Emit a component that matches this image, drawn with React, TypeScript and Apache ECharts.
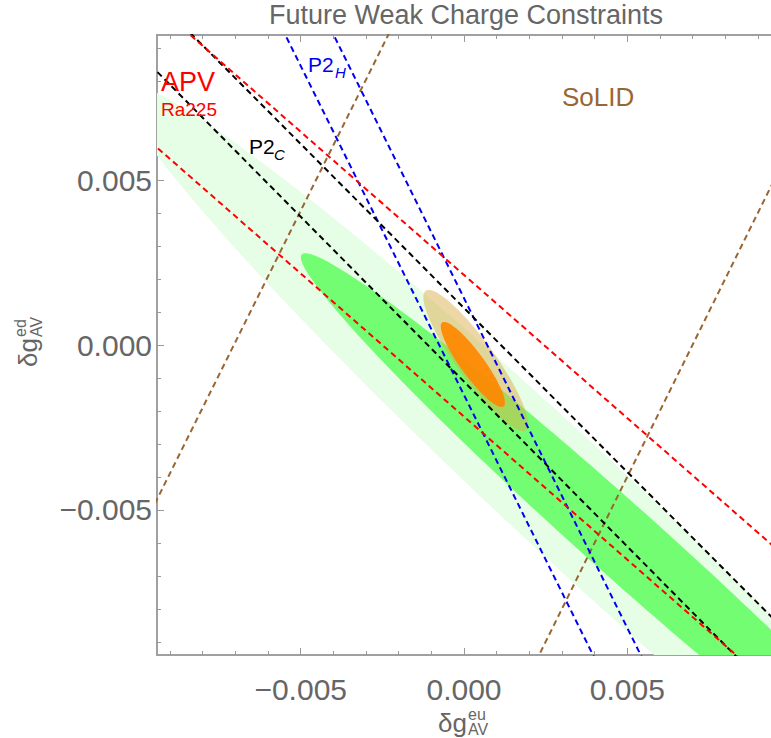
import React, { useEffect, useRef } from "react";
import * as echarts from "echarts";

// axis ranges
const xRange = [-0.0094, 0.0094];
const yRange = [-0.0094, 0.0094];
// tick values
const majorTicks = [-0.005, 0, 0.005];
const minorTicks = [
  -0.009, -0.008, -0.007, -0.006, -0.005, -0.004, -0.003, -0.002, -0.001, 0,
  0.001, 0.002, 0.003, 0.004, 0.005, 0.006, 0.007, 0.008, 0.009,
];

// ellipses: [centerX, centerY, semiMajor, semiMinor, angleDeg]
const ellipseLightGreen = [0.00312, -0.00462, 0.01848, 0.00176, -42.6];
const ellipseGreen = [0.00479, -0.00589, 0.01303, 0.00109, -41.5];
const ellipseTan = [0.00036, -0.00047, 0.00261, 0.00058, -54];
const ellipseOrange = [0.00027, -0.00059, 0.00158, 0.00036, -53.6];

// constraint bands (line endpoints in data units)
const apvUpper = [[-0.0086, 0.00959], [0.0096, -0.00621]];
const apvLower = [[-0.0096, 0.00616], [0.00856, -0.0096]];
const p2cUpper = [[-0.0086, 0.00968], [0.0096, -0.00843]];
const p2cLower = [[-0.0096, 0.00849], [0.0085, -0.00961]];
const p2hLeft = [[-0.00557, 0.0096], [0.00405, -0.0096]];
const p2hRight = [[-0.00409, 0.0096], [0.00551, -0.0096]];
const solidLeft = [[-0.0096, -0.00508], [-0.00222, 0.0096]];
const solidRight = [[0.0022, -0.0096], [0.0096, 0.00521]];

const FONT = "'Liberation Sans', Arial, sans-serif";
const GRAY = "#666666";
const FRAME = "#9a9a9a";
const BROWN = "#996633";

function fmt(v: number) {
  if (Math.abs(v) < 1e-12) return "0.000";
  return (v < 0 ? "\u2212" : "") + Math.abs(v).toFixed(3);
}

function ellipseRenderer(fill: string) {
  return (params: any, api: any) => {
    const cx = api.value(0);
    const cy = api.value(1);
    const a = api.value(2);
    const b = api.value(3);
    const ang = (api.value(4) * Math.PI) / 180;
    const pts: number[][] = [];
    const N = 240;
    for (let i = 0; i < N; i++) {
      const t = (2 * Math.PI * i) / N;
      const dx = a * Math.cos(t);
      const dy = b * Math.sin(t);
      const x = cx + dx * Math.cos(ang) - dy * Math.sin(ang);
      const y = cy + dx * Math.sin(ang) + dy * Math.cos(ang);
      pts.push(api.coord([x, y]));
    }
    return { type: "polygon", shape: { points: pts }, style: { fill } };
  };
}

function lineSeries(data: number[][], color: string) {
  return {
    type: "line",
    data,
    symbol: "none",
    showSymbol: false,
    silent: true,
    clip: true,
    z: 5,
    lineStyle: { color, width: 2, type: [6, 4] },
  };
}

function ellipseSeries(data: number[], fill: string, z: number) {
  return {
    type: "custom",
    renderItem: ellipseRenderer(fill),
    data: [data],
    clip: true,
    silent: true,
    z,
  };
}

function txt(text: string, x: number, y: number, size: number, color: string, align = "left", italic = false) {
  return {
    type: "text",
    x,
    y,
    z: 10,
    style: {
      text,
      fill: color,
      fontSize: size,
      fontFamily: FONT,
      fontStyle: italic ? "italic" : "normal",
      align,
      textAlign: align,
      verticalAlign: "middle",
      textVerticalAlign: "middle",
    },
  };
}

export default function App() {
  const ref = useRef<HTMLDivElement>(null);
  useEffect(() => {
    if (!ref.current) return;
    const chart = echarts.init(ref.current, undefined, { renderer: "svg" });
    const baseAxis = {
      type: "value",
      splitLine: { show: false },
      axisLine: { show: true, onZero: false, lineStyle: { color: FRAME, width: 1.5 } },
    };
    const majorTick = { show: true, inside: true, length: 7, customValues: majorTicks, lineStyle: { color: FRAME, width: 1 } };
    const minorTickCfg = { show: true, inside: true, length: 4, customValues: minorTicks, lineStyle: { color: FRAME, width: 1 } };
    const noLabel = { show: false };
    const xBase = { ...baseAxis, min: xRange[0], max: xRange[1] };
    const yBase = { ...baseAxis, min: yRange[0], max: yRange[1] };
    const option: any = {
      animation: false,
      backgroundColor: "#ffffff",
      grid: { left: 157, top: 35, width: 620, height: 620, containLabel: false },
      xAxis: [
        {
          ...xBase,
          position: "bottom",
          axisTick: majorTick,
          axisLabel: { show: true, customValues: majorTicks, formatter: fmt, fontSize: 30, color: GRAY, fontFamily: FONT, margin: 19 },
        },
        { ...xBase, position: "bottom", axisTick: minorTickCfg, axisLabel: noLabel },
        { ...xBase, position: "top", axisTick: majorTick, axisLabel: noLabel },
        { ...xBase, position: "top", axisTick: minorTickCfg, axisLabel: noLabel },
      ],
      yAxis: [
        {
          ...yBase,
          position: "left",
          axisTick: majorTick,
          axisLabel: { show: true, customValues: majorTicks, formatter: fmt, fontSize: 30, color: GRAY, fontFamily: FONT, margin: 5 },
        },
        { ...yBase, position: "left", axisTick: minorTickCfg, axisLabel: noLabel },
      ],
      series: [
        ellipseSeries(ellipseLightGreen, "#e6fde6", 1),
        ellipseSeries(ellipseGreen, "#73fd73", 2),
        ellipseSeries(ellipseTan, "rgba(220,172,70,0.48)", 3),
        ellipseSeries(ellipseOrange, "rgba(255,136,0,0.92)", 4),
        lineSeries(solidLeft, BROWN),
        lineSeries(solidRight, BROWN),
        lineSeries(p2hLeft, "#0000f0"),
        lineSeries(p2hRight, "#0000f0"),
        lineSeries(p2cUpper, "#000000"),
        lineSeries(p2cLower, "#000000"),
        lineSeries(apvUpper, "#ff0000"),
        lineSeries(apvLower, "#ff0000"),
      ],
      graphic: [
        txt("Future Weak Charge Constraints", 466, 15, 27, GRAY, "center"),
        txt("APV", 161, 82, 27, "#ff0000"),
        txt("Ra225", 161, 109, 19, "#ff0000"),
        txt("P2", 249, 146, 21, "#000000"),
        txt("C", 274, 154, 15, "#000000", "left", true),
        txt("P2", 308, 64, 21, "#0000f0"),
        txt("H", 335, 72, 15, "#0000f0", "left", true),
        txt("SoLID", 562, 97, 26, BROWN),
        // x axis label
        txt("\u03B4g", 467, 722.5, 26, GRAY, "right"),
        txt("eu", 468, 714, 16, GRAY),
        txt("AV", 468, 729.5, 16, GRAY),
        // y axis label (rotated)
        {
          type: "group",
          x: 28,
          y: 338,
          rotation: Math.PI / 2,
          children: [
            txt("\u03B4g", 0, 0, 26, GRAY, "right"),
            txt("ed", 1, -8, 16, GRAY),
            txt("AV", 1, 8, 16, GRAY),
          ],
        },
      ],
    };
    chart.setOption(option);
    return () => chart.dispose();
  }, []);
  return (
    <div
      ref={ref}
      style={{ position: "fixed", left: 0, top: 0, width: 771, height: 738, background: "#fff" }}
    />
  );
}
